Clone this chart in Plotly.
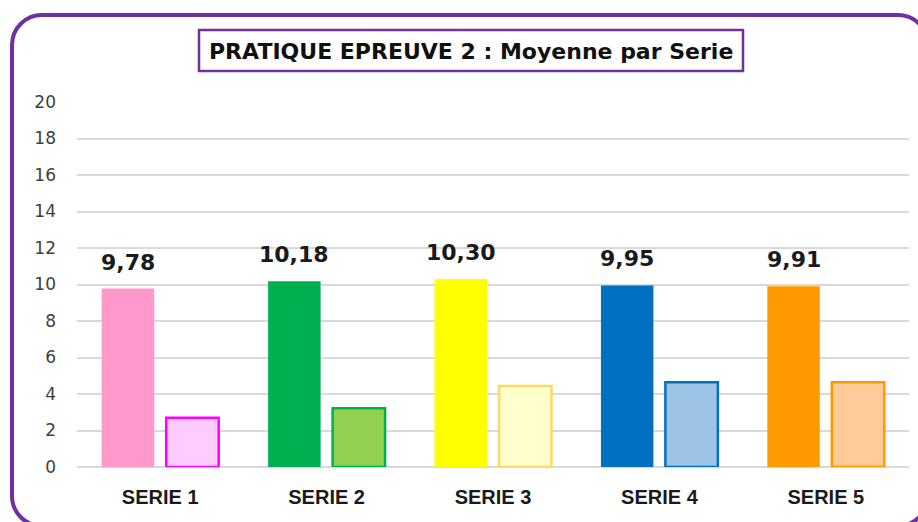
import plotly.graph_objects as go

categories = ["SERIE 1", "SERIE 2", "SERIE 3", "SERIE 4", "SERIE 5"]
moyenne_values = [9.78, 10.18, 10.30, 9.95, 9.91]
moyenne_labels = ["9,78", "10,18", "10,30", "9,95", "9,91"]
second_values = [2.70, 3.22, 4.44, 4.65, 4.65]
y_ticks = [0, 2, 4, 6, 8, 10, 12, 14, 16, 18, 20]

main_colors = ["#FF99CC", "#00B050", "#FFFF00", "#0070C0", "#FF9900"]
light_fill = ["#FFCCFF", "#92D050", "#FFFFCC", "#9DC3E6", "#FFCC99"]
light_line = ["#FF00FF", "#00B050", "#FFD966", "#0070C0", "#FF9900"]

W, H = 918, 522
L, R, T, B = 77, 909, 102, 467
PURPLE = "#7030A0"


def px(x):
    return (x - L) / (R - L)


def py(y):
    return (B - y) / (B - T)


fig = go.Figure()
fig.add_trace(go.Bar(
    x=categories, y=moyenne_values,
    marker=dict(color=main_colors, line=dict(width=0)),
    showlegend=False,
))
fig.add_trace(go.Bar(
    x=categories, y=second_values,
    marker=dict(color=light_fill, line=dict(color=light_line, width=2.5)),
    showlegend=False,
))

for cat, val, lab in zip(categories, moyenne_values, moyenne_labels):
    fig.add_annotation(
        x=cat, y=val, xref="x", yref="y", text=lab, showarrow=False,
        yanchor="bottom", xanchor="center", xshift=-32.25, yshift=12,
        font=dict(family="DejaVu Sans", size=22, color="#1a1a1a", weight="bold"),
    )

# outer rounded border
x0, y0, x1, y1, r = 12, 15, 928, 526, 30
k = 0.5523 * r
path = (
    f"M {px(x0)},{py(y0 + r)} "
    f"C {px(x0)},{py(y0 + r - k)} {px(x0 + r - k)},{py(y0)} {px(x0 + r)},{py(y0)} "
    f"L {px(x1 - r)},{py(y0)} "
    f"C {px(x1 - r + k)},{py(y0)} {px(x1)},{py(y0 + r - k)} {px(x1)},{py(y0 + r)} "
    f"L {px(x1)},{py(y1 - r)} "
    f"C {px(x1)},{py(y1 - r + k)} {px(x1 - r + k)},{py(y1)} {px(x1 - r)},{py(y1)} "
    f"L {px(x0 + r)},{py(y1)} "
    f"C {px(x0 + r - k)},{py(y1)} {px(x0)},{py(y1 - r + k)} {px(x0)},{py(y1 - r)} Z"
)
fig.add_shape(type="path", xref="paper", yref="paper", path=path,
              line=dict(color=PURPLE, width=4))

# title box
fig.add_shape(type="rect", xref="paper", yref="paper",
              x0=px(199), x1=px(743), y0=py(30), y1=py(71),
              line=dict(color=PURPLE, width=2.5), fillcolor="white")
fig.add_annotation(
    x=px(471), y=py(51), xref="paper", yref="paper",
    text="PRATIQUE EPREUVE 2 : Moyenne par Serie", showarrow=False,
    xanchor="center", yanchor="middle",
    font=dict(family="DejaVu Sans", size=22, color="#111111", weight="bold"),
)

fig.update_layout(
    width=W, height=H,
    margin=dict(l=L, r=W - R, t=T, b=H - B, pad=0),
    paper_bgcolor="white", plot_bgcolor="white",
    barmode="group", bargap=0.225, bargroupgap=0.186,
    showlegend=False,
)
fig.update_xaxes(
    showgrid=False, showline=False, zeroline=False,
    tickfont=dict(family="Liberation Sans", size=20, color="#1a1a1a", weight="bold"),
    ticklabelstandoff=16,
)
fig.update_yaxes(
    range=[0, 20], tickvals=y_ticks, ticktext=[str(v) for v in y_ticks],
    showgrid=True, gridcolor="#D9D9D9", gridwidth=2,
    zeroline=True, zerolinecolor="#D9D9D9", zerolinewidth=2,
    showline=False,
    tickfont=dict(family="DejaVu Sans", size=17, color="#404040"),
    ticklabelstandoff=20,
)

fig.write_html(
    "out.html",
    config={"displayModeBar": False},
    post_script="document.body.style.margin='0';document.body.style.overflow='hidden';",
)
